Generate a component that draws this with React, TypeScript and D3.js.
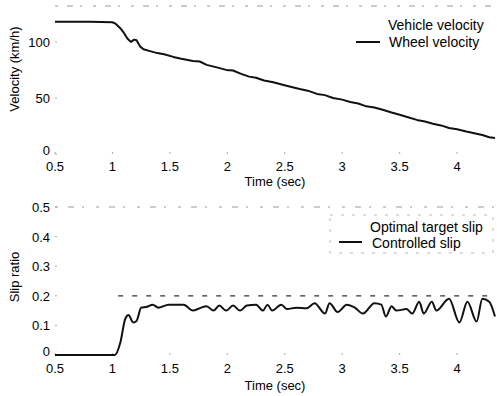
import React from 'react'
import * as d3 from 'd3'

// wheel velocity (km/h)
const velTime = [0.5, 0.8, 1.0, 1.03, 1.07, 1.1, 1.13, 1.16, 1.19, 1.21, 1.24, 1.27, 1.32, 1.39, 1.45, 1.53, 1.6, 1.7, 1.76, 1.82, 1.9, 1.99, 2.05, 2.12, 2.19, 2.25, 2.32, 2.4, 2.49, 2.55, 2.63, 2.7, 2.78, 2.85, 2.92, 3.0, 3.07, 3.14, 3.21, 3.28, 3.36, 3.43, 3.5, 3.58, 3.65, 3.72, 3.79, 3.86, 3.93, 4.0, 4.08, 4.15, 4.22, 4.28, 4.33]
const velValue = [118, 118, 117.5, 116, 112, 108, 103, 100, 102, 101.5, 96, 93.5, 92, 90, 89, 86.6, 85, 83, 82.5, 79.5, 77.5, 75, 74.5, 71.5, 69, 68, 65.5, 64, 61.6, 60, 58, 56.5, 53.6, 52.5, 50, 48.5, 46.4, 45, 42.5, 41.5, 39.3, 37, 35, 32.5, 30.4, 29, 27, 25.5, 23.2, 22, 20, 18.5, 17, 15, 14.3]

// controlled slip
const slipTime = [0.5, 1.0, 1.02, 1.07, 1.11, 1.14, 1.18, 1.21, 1.25, 1.3, 1.35, 1.4, 1.49, 1.62, 1.7, 1.76, 1.82, 1.88, 1.93, 1.99, 2.05, 2.11, 2.17, 2.25, 2.31, 2.35, 2.39, 2.47, 2.52, 2.6, 2.69, 2.76, 2.85, 2.89, 2.96, 3.04, 3.11, 3.18, 3.28, 3.34, 3.38, 3.43, 3.47, 3.56, 3.61, 3.67, 3.71, 3.78, 3.82, 3.93, 4.02, 4.09, 4.17, 4.22, 4.28, 4.33]
const slipValue = [0, 0, 0, 0.044, 0.12, 0.135, 0.11, 0.115, 0.16, 0.163, 0.17, 0.16, 0.17, 0.17, 0.15, 0.158, 0.165, 0.15, 0.167, 0.15, 0.167, 0.15, 0.167, 0.17, 0.15, 0.17, 0.15, 0.17, 0.155, 0.16, 0.158, 0.175, 0.14, 0.175, 0.145, 0.17, 0.16, 0.14, 0.175, 0.17, 0.13, 0.165, 0.15, 0.155, 0.14, 0.18, 0.14, 0.18, 0.15, 0.19, 0.11, 0.18, 0.113, 0.19, 0.18, 0.13]

// optimal target slip
const targetTime = [1.05, 4.33]
const targetValue = [0.2, 0.2]

const xTicks = [0.5, 1, 1.5, 2, 2.5, 3, 3.5, 4]
const velTicks = [0, 50, 100]
const slipTicks = [0, 0.1, 0.2, 0.3, 0.4, 0.5]

const font = 'Liberation Sans, Arial, Helvetica, sans-serif'

const App = () => {
  const width = 497
  const height = 396
  const x = d3.scaleLinear().domain([0.5, 4.33]).range([55, 495])
  const yVel = d3.scaleLinear().domain([0, 132]).range([154, 6])
  const ySlip = d3.scaleLinear().domain([0, 0.5]).range([355, 207])

  const velLine = d3.line<number>()
    .x((d, i) => x(velTime[i]))
    .y(d => yVel(d))
  const slipLine = d3.line<number>()
    .x((d, i) => x(slipTime[i]))
    .y(d => ySlip(d))
    .curve(d3.curveMonotoneX)
  const targetLine = d3.line<number>()
    .x((d, i) => x(targetTime[i]))
    .y(d => ySlip(d))

  const xAxis = (y0: number, labelY: number, titleY: number) => (
    <g>
      {xTicks.map(t => (
        <g key={t}>
          <line x1={x(t)} x2={x(t)} y1={y0} y2={y0 - 2} stroke="#aaa" />
          <text x={x(t)} y={labelY} textAnchor="middle" fontSize={13}>{t}</text>
        </g>
      ))}
      <text x={(x(0.5) + x(4.33)) / 2} y={titleY} textAnchor="middle" fontSize={13}>Time (sec)</text>
    </g>
  )

  return (
    <svg width={width} height={height} style={{ position: 'absolute', left: 0, top: 0, background: '#fff' }} fontFamily={font}>
      {/* top panel */}
      <line x1={x(0.5)} x2={x(4.33)} y1={6} y2={6} stroke="#999" strokeDasharray="3,9,6,7,2,11" />
      {velTicks.map(v => (
        <g key={v}>
          <text x={50} y={yVel(v) + (v === 0 ? 1 : 5)} textAnchor="end" fontSize={13}>{v}</text>
          <line x1={x(0.5)} x2={x(0.5) + 2} y1={yVel(v)} y2={yVel(v)} stroke="#aaa" />
        </g>
      ))}
      {xAxis(154, 171, 186)}
      <text transform={`translate(19,69) rotate(-90)`} textAnchor="middle" fontSize={13}>Velocity (km/h)</text>
      <path d={velLine(velValue) ?? ''} fill="none" stroke="#111" strokeWidth={2} strokeLinejoin="round" />
      <text x={388} y={30} fontSize={14}>Vehicle velocity</text>
      <text x={389} y={47} fontSize={14}>Wheel velocity</text>
      <line x1={356} x2={380} y1={42} y2={42} stroke="#111" strokeWidth={2} />

      {/* bottom panel */}
      <line x1={x(0.5)} x2={x(4.33)} y1={207} y2={207} stroke="#999" strokeDasharray="3,10,6,8,2,12" />
      {slipTicks.map(v => (
        <g key={v}>
          <text x={50} y={ySlip(v) + (v === 0 ? 1 : 5)} textAnchor="end" fontSize={13}>{v}</text>
          <line x1={x(0.5)} x2={x(0.5) + 2} y1={ySlip(v)} y2={ySlip(v)} stroke="#aaa" />
        </g>
      ))}
      {xAxis(355, 373, 390)}
      <text transform={`translate(19,277) rotate(-90)`} textAnchor="middle" fontSize={13}>Slip ratio</text>
      <path d={targetLine(targetValue) ?? ''} fill="none" stroke="#333" strokeWidth={1.2} strokeDasharray="5,9" />
      <path d={slipLine(slipValue) ?? ''} fill="none" stroke="#111" strokeWidth={2} strokeLinejoin="round" />
      <rect x={330} y={215} width={163} height={38} fill="none" stroke="#bbb" strokeDasharray="3,8" />
      <text x={370} y={232} fontSize={14}>Optimal target slip</text>
      <text x={372} y={248} fontSize={14}>Controlled slip</text>
      <line x1={339} x2={362} y1={242} y2={242} stroke="#111" strokeWidth={2} />
    </svg>
  )
}

export default App
